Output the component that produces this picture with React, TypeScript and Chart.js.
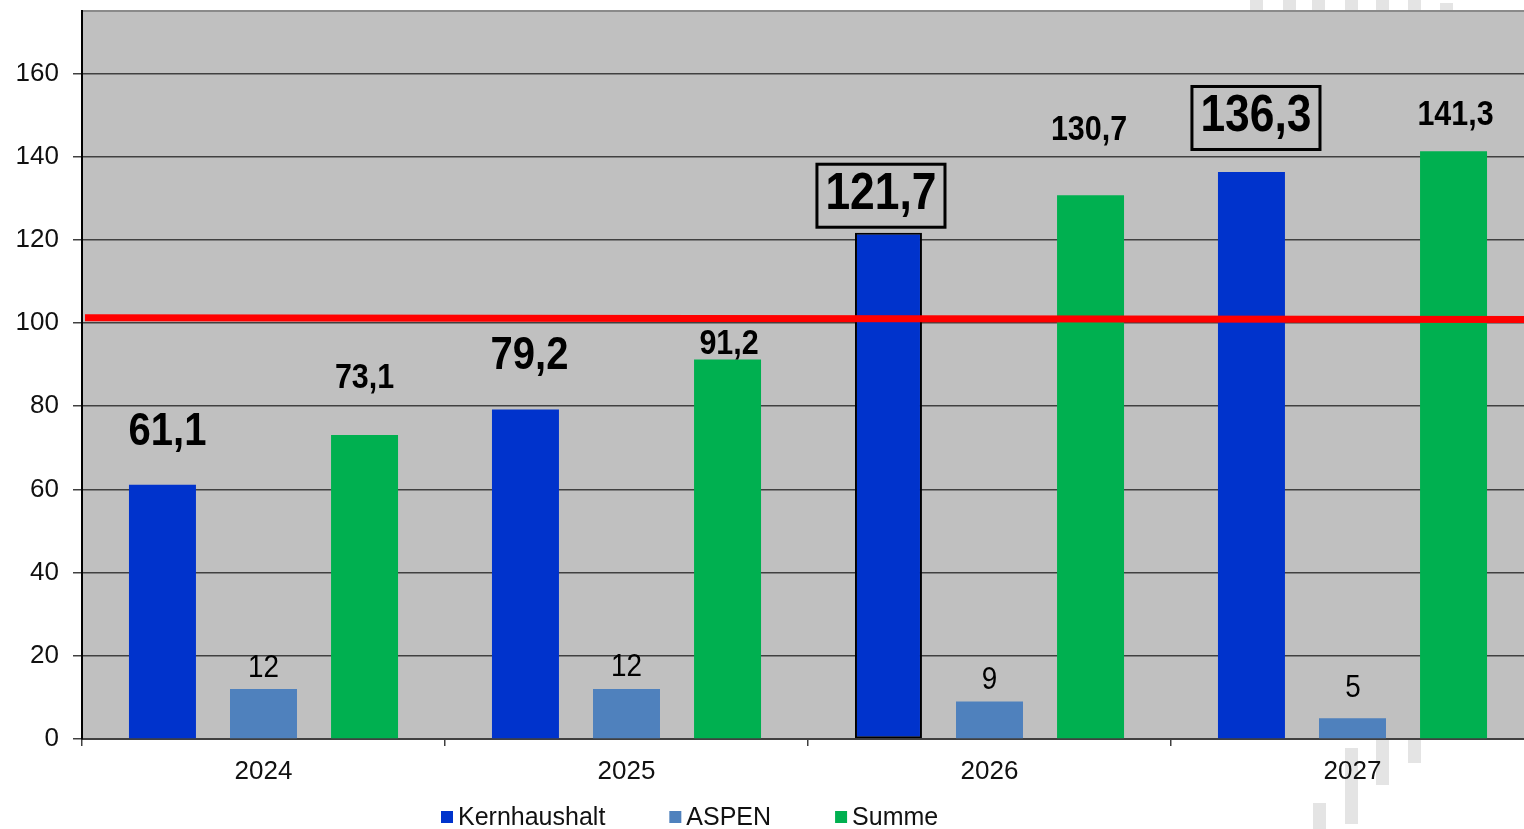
import React, { useEffect, useRef } from 'react';
import { Chart, registerables } from 'chart.js';

Chart.register(...registerables);

// ---- data ----
const years = ['2024', '2025', '2026', '2027'];
const seriesNames = ['Kernhaushalt', 'ASPEN', 'Summe'];
const kernhaushalt = [61.1, 79.2, 121.7, 136.3];
const aspen = [12, 12, 9, 5];
const summe = [73.1, 91.2, 130.7, 141.3];
const limitValue = 100;
const yMax = 175;
const yStep = 20;

// ---- styling ----
const FONT = "'Liberation Sans', Arial, sans-serif";
const colors = ['#0033CC', '#4F81BD', '#00B050'];
const plotBg = '#C0C0C0';
const gridColor = '#404040';

const fmt = (v: number) => String(v).replace('.', ',');

// per-series label styling: font, lift above bar top (px), x shift (px), boxed or not
const labelStyle = [
  { weight: 'bold', size: 46, boxedSize: 51, lift: [53, 53, 38, 55], dx: [5, 4, -7.5, 4.5], boxed: [false, false, true, true] },
  { weight: 'normal', size: 32, boxedSize: 32, lift: [20.5, 22, 21.5, 30], dx: [0, 0, 0, 0.5], boxed: [false, false, false, false] },
  { weight: 'bold', size: 35, boxedSize: 35, lift: [56.5, 15.5, 65, 36], dx: [0, 1.5, -1.5, 2], boxed: [false, false, false, false] },
];
const condense = 0.87;

function drawCondensed(ctx: CanvasRenderingContext2D, text: string, x: number, y: number, font: string) {
  ctx.save();
  ctx.translate(x, y);
  ctx.scale(condense, 1);
  ctx.font = font;
  ctx.textAlign = 'center';
  ctx.textBaseline = 'middle';
  ctx.fillStyle = '#000';
  ctx.fillText(text, 0, 0);
  const w = ctx.measureText(text).width * condense;
  ctx.restore();
  return w;
}

// light watermark stripes behind the page
const stripesTop = [1250, 1283, 1312, 1345, 1376, 1408, 1440];
const stripesBottom: [number, number, number][] = [
  [1313, 803, 829],
  [1345, 748, 824],
  [1376, 740, 785],
  [1408, 740, 763],
];

const decorPlugin = {
  id: 'decor',
  beforeDraw(chart: any) {
    const { ctx, chartArea } = chart;
    ctx.save();
    ctx.fillStyle = '#e4e4e4';
    stripesTop.forEach((x, i) => ctx.fillRect(x, i === stripesTop.length - 1 ? 3 : 0, 13, i === stripesTop.length - 1 ? 7 : 10));
    stripesBottom.forEach(([x, y0, y1]) => ctx.fillRect(x, y0, 13, y1 - y0));
    ctx.fillStyle = plotBg;
    ctx.fillRect(chartArea.left, chartArea.top, chartArea.right - chartArea.left, chartArea.bottom - chartArea.top);
    ctx.restore();
  },
  afterDatasetsDraw(chart: any) {
    const { ctx, chartArea } = chart;
    const y = chart.scales.y.getPixelForValue(limitValue);
    // limit line
    ctx.save();
    ctx.strokeStyle = '#FF0000';
    ctx.lineWidth = 7;
    ctx.beginPath();
    ctx.moveTo(chartArea.left + 3, y - 5.25);
    ctx.lineTo(chartArea.right, y - 3.5);
    ctx.stroke();
    ctx.restore();

    // value labels
    chart.data.datasets.forEach((ds: any, di: number) => {
      const meta = chart.getDatasetMeta(di);
      const st = labelStyle[di];
      meta.data.forEach((bar: any, i: number) => {
        const v = ds.data[i] as number;
        const text = fmt(v);
        const cx = bar.x + st.dx[i];
        const cy = bar.y - st.lift[i];
        if (st.boxed[i]) {
          const font = `${st.weight} ${st.boxedSize}px ${FONT}`;
          const w = drawCondensed(ctx, text, cx, cy, font);
          ctx.save();
          ctx.strokeStyle = '#000';
          ctx.lineWidth = 3;
          const bw = w + 17;
          const bh = 63;
          ctx.strokeRect(cx - bw / 2, cy - bh / 2 + 1, bw, bh);
          ctx.restore();
        } else {
          drawCondensed(ctx, text, cx, cy, `${st.weight} ${st.size}px ${FONT}`);
        }
      });
    });
  },
  afterDraw(chart: any) {
    // legend
    const { ctx } = chart;
    ctx.save();
    ctx.font = `25px ${FONT}`;
    ctx.textBaseline = 'middle';
    ctx.textAlign = 'left';
    let x = 441;
    const cy = 817;
    seriesNames.forEach((name, i) => {
      ctx.fillStyle = colors[i];
      ctx.fillRect(x, cy - 6, 12, 12);
      ctx.fillStyle = '#111';
      ctx.fillText(name, x + 17, cy + 1);
      x += 17 + ctx.measureText(name).width + 64;
    });
    ctx.restore();
  },
};

export default function App() {
  const ref = useRef<HTMLCanvasElement>(null);

  useEffect(() => {
    const canvas = ref.current;
    if (!canvas) return;
    const chart = new Chart(canvas, {
      type: 'bar',
      data: {
        labels: years,
        datasets: [
          {
            label: seriesNames[0],
            data: kernhaushalt,
            backgroundColor: colors[0],
            borderColor: '#000',
            borderWidth: [0, 0, 2, 0],
            borderSkipped: false,
          },
          { label: seriesNames[1], data: aspen, backgroundColor: colors[1], borderWidth: 0 },
          { label: seriesNames[2], data: summe, backgroundColor: colors[2], borderWidth: 0 },
        ],
      },
      options: {
        responsive: false,
        maintainAspectRatio: false,
        animation: false,
        devicePixelRatio: 1,
        layout: { padding: { top: 11, right: 2, left: 0, bottom: 0 } },
        datasets: { bar: { categoryPercentage: 0.835, barPercentage: 0.663 } },
        plugins: { legend: { display: false }, tooltip: { enabled: false } },
        scales: {
          x: {
            type: 'category',
            grid: {
              offset: true,
              drawOnChartArea: false,
              drawTicks: true,
              tickLength: 7,
              color: gridColor,
              lineWidth: 1.5,
            },
            border: { color: gridColor, width: 2 },
            ticks: { color: '#111', font: { family: FONT, size: 26 }, padding: 10 },
            afterFit: (scale: any) => {
              scale.height = 90;
              scale.paddingLeft = 0;
              scale.paddingRight = 0;
            },
          },
          y: {
            min: 0,
            max: yMax,
            ticks: {
              stepSize: yStep,
              color: '#111',
              font: { family: FONT, size: 26 },
              padding: 14,
              callback: (v: any) => (Number(v) % yStep === 0 ? String(v) : ''),
            },
            grid: {
              color: (c: any) => (c.tick && c.tick.value === yMax ? '#8a8a8a' : gridColor),
              tickColor: (c: any) => (c.tick && c.tick.value === yMax ? 'rgba(0,0,0,0)' : gridColor),
              lineWidth: (c: any) => (c.tick && c.tick.value === yMax ? 2 : 1.5),
              tickLength: 9,
            },
            border: { color: '#000', width: 2 },
            afterFit: (scale: any) => {
              scale.width = 82;
              scale.paddingTop = 0;
              scale.paddingBottom = 0;
            },
          },
        },
      },
      plugins: [decorPlugin],
    } as any);
    return () => chart.destroy();
  }, []);

  return (
    <div
      style={{
        position: 'fixed',
        left: 0,
        top: 0,
        width: 1524,
        height: 829,
        overflow: 'hidden',
        background: '#fff',
      }}
    >
      <canvas ref={ref} width={1536} height={829} style={{ display: 'block', width: 1536, height: 829 }} />
    </div>
  );
}
